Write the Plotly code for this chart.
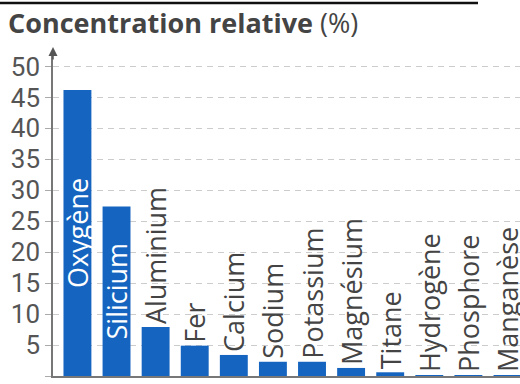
import plotly.graph_objects as go

elements = ["Oxygène", "Silicium", "Aluminium", "Fer", "Calcium", "Sodium",
            "Potassium", "Magnésium", "Titane", "Hydrogène", "Phosphore", "Manganèse"]
values = [46.2, 27.4, 7.9, 4.9, 3.4, 2.3, 2.3, 1.3, 0.6, 0.14, 0.1, 0.1]
label_inside = [True, True] + [False] * 10
y_ticks = [0, 5, 10, 15, 20, 25, 30, 35, 40, 45, 50]

W, H = 520, 384
ML, MR, MT, MB = 53, 0, 51, 7.5
PW, PH = W - ML - MR, H - MT - MB

FONT = "Open Sans"
TICK_FONT = "Roboto"
BLUE = "#1565c0"
GREY_TXT = "#444444"

fig = go.Figure()
fig.add_trace(go.Bar(
    x=list(range(len(elements))),
    y=values,
    text=elements,
    textposition=["inside" if f else "outside" for f in label_inside],
    insidetextanchor="middle",
    textangle=-90,
    constraintext="none",
    insidetextfont=dict(family=FONT, size=27, color="white"),
    outsidetextfont=dict(family=FONT, size=27, color=GREY_TXT),
    marker=dict(color=BLUE, line=dict(width=0)),
    cliponaxis=False,
    hoverinfo="skip",
))

def px_x(px):
    return (px - ML) / PW

def px_y(py):
    return 1 - (py - MT) / PH

fig.update_layout(
    width=W, height=H,
    margin=dict(l=ML, r=MR, t=MT, b=MB, pad=0),
    paper_bgcolor="white", plot_bgcolor="white",
    showlegend=False,
    bargap=0.286,
    xaxis=dict(
        range=[-0.625, 11.32], showticklabels=False, showgrid=False,
        zeroline=False, showline=True, linecolor="#777777", linewidth=1.5,
        ticks="", fixedrange=True,
    ),
    yaxis=dict(
        range=[0, 52.5], tickvals=y_ticks, ticktext=[str(v) for v in y_ticks],
        tickfont=dict(family=TICK_FONT, size=26, color="#555555"),
        ticks="outside", ticklen=6, tickcolor="#aaaaaa", tickwidth=1,
        showgrid=True, gridcolor="#cccccc", gridwidth=1.2, griddash="6px,5px",
        zeroline=False, showline=True, linecolor="#777777", linewidth=1.5,
        fixedrange=True,
    ),
    annotations=[
        dict(
            xref="paper", yref="paper", x=px_x(6), y=px_y(2),
            xanchor="left", yanchor="top", showarrow=False,
            text="<b>Concentration relative</b> (%)",
            font=dict(family=FONT, size=27, color=GREY_TXT),
        ),
        dict(
            xref="paper", yref="paper", x=0, y=px_y(47),
            ax=0, ay=14, axref="pixel", ayref="pixel",
            showarrow=True, arrowhead=2, arrowsize=1.2, arrowwidth=1.5,
            arrowcolor="#555555", text="",
        ),
    ],
    shapes=[
        dict(type="line", xref="paper", yref="paper",
             x0=px_x(0), x1=px_x(478), y0=px_y(3), y1=px_y(3),
             line=dict(color="#111111", width=2.5)),
    ],
)

fig.write_html("out.html")
